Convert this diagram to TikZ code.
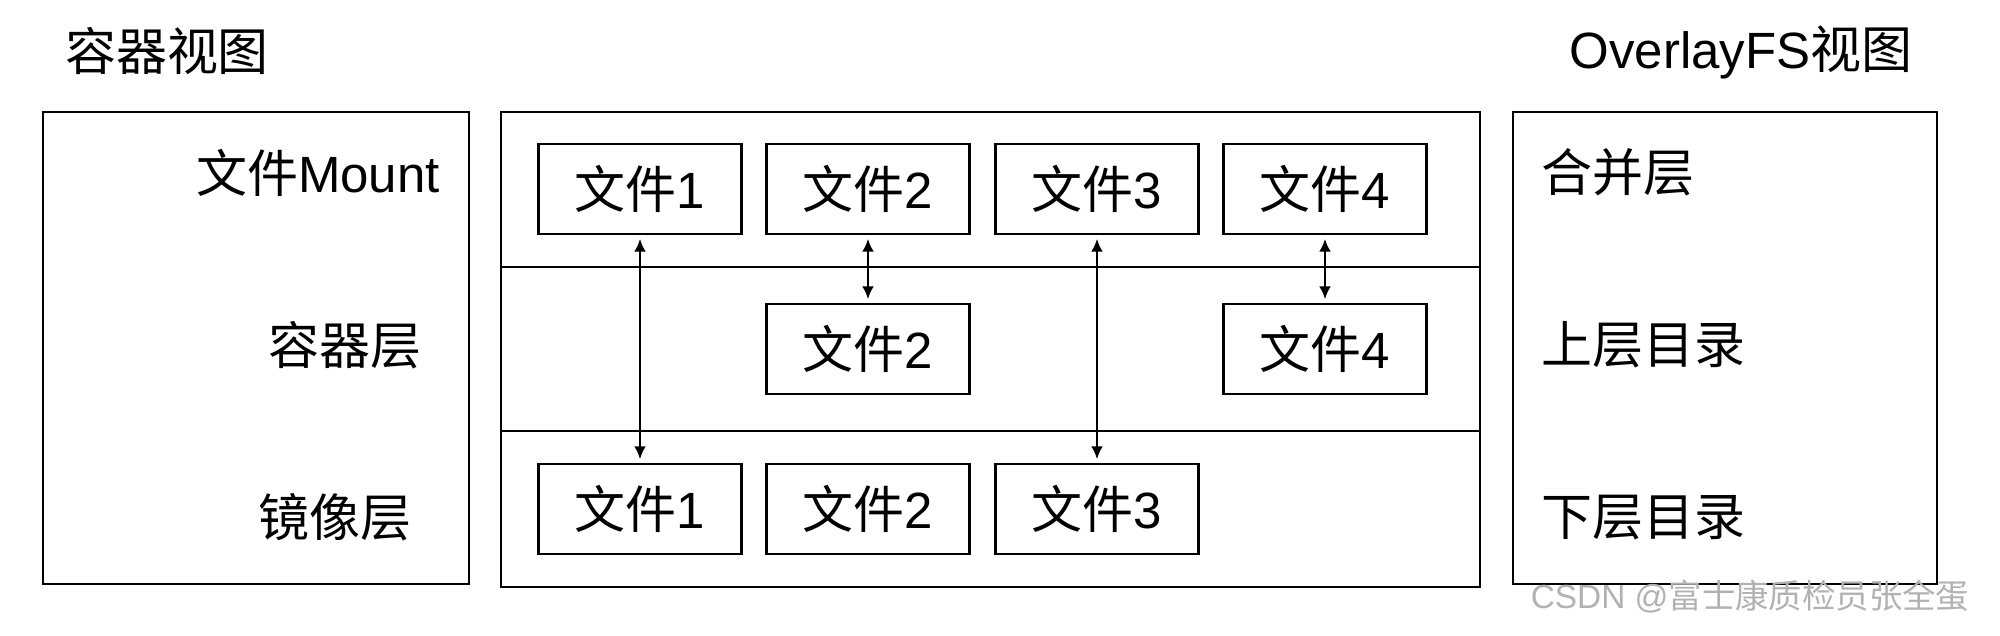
\documentclass[tikz,border=0pt]{standalone}
\usepackage{fontspec}
\setmainfont{Liberation Sans}
\newfontfamily\cjk{Noto Sans CJK SC}
\usetikzlibrary{arrows.meta, positioning}

\begin{document}
\begin{tikzpicture}[x=0.01cm, y=-0.01cm,
  frame/.style={line width=0.75pt},
  filebox/.style={draw, line width=0.75pt, minimum width=2.03cm, minimum height=0.9cm, inner sep=0pt, font=\fontsize{14.5}{17}\selectfont},
  layertext/.style={inner sep=0pt, font=\fontsize{14.5}{17}\selectfont},
  link/.style={{Latex[length=3.6pt,width=3.3pt]}-{Latex[length=3.6pt,width=3.3pt]}, line width=0.55pt, shorten <=1pt, shorten >=1pt}]
\useasboundingbox (0,0) rectangle (2000,635);

% Titles
\node[layertext] (ctitle) at (167,51) {\cjk 容器视图};
\node[layertext] (otitle) at (1741,52) {OverlayFS{\cjk 视图}};

% Frames
\draw[frame] (43,112) rectangle (469,584);
\draw[frame] (501,112) rectangle (1480,587);
\draw[frame] (501,267) -- (1480,267);
\draw[frame] (501,431) -- (1480,431);
\draw[frame] (1513,112) rectangle (1937,584);

% Container view labels
\node[layertext] (lmount) at (318,173) {{\cjk 文件}Mount};
\node[layertext] (lupper) at (345,345) {\cjk 容器层};
\node[layertext] (llower) at (335,517) {\cjk 镜像层};

% OverlayFS view labels
\node[layertext, anchor=west] (rmerge) at (1541,172) {\cjk 合并层};
\node[layertext, anchor=west] (rupper) at (1541,345) {\cjk 上层目录};
\node[layertext, anchor=west] (rlower) at (1541,518) {\cjk 下层目录};

% Files
\foreach \i/\x in {1/640, 2/868, 3/1097, 4/1325}
  \node[filebox] (m\i) at (\x,189) {{\cjk 文件}\i};
\node[filebox] (u2) at (868,349) {{\cjk 文件}2};
\node[filebox] (u4) at (1325,349) {{\cjk 文件}4};
\foreach \i/\x in {1/640, 2/868, 3/1097}
  \node[filebox] (l\i) at (\x,509) {{\cjk 文件}\i};

% Links
\draw[link] (m1) -- (l1);
\draw[link] (m2) -- (u2);
\draw[link] (m3) -- (l3);
\draw[link] (m4) -- (u4);

% Watermark
\node[inner sep=0pt, text=gray!60, font=\fontsize{9.5}{11}\selectfont] (mark) at (1750,597) {CSDN @{\cjk 富士康质检员张全蛋}};
\end{tikzpicture}
\end{document}
